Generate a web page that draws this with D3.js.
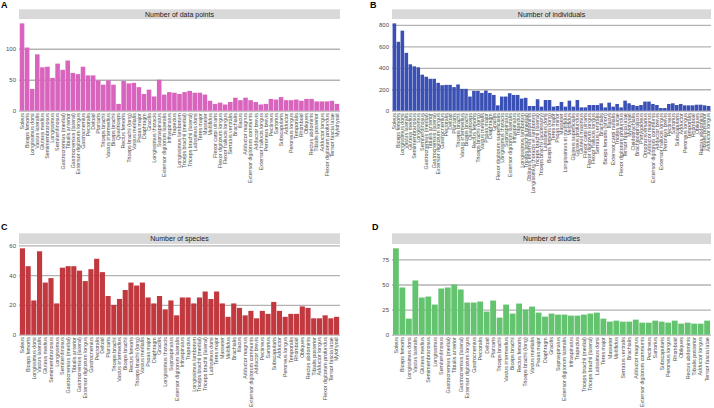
<!DOCTYPE html>
<html><head><meta charset="utf-8">
<script src="https://cdn.jsdelivr.net/npm/d3@7"></script>
<style>
html,body{margin:0;padding:0;background:#fff;}
svg{display:block;font-family:"Liberation Sans",Arial,Helvetica,sans-serif;}
</style></head>
<body><svg id="chart" width="714" height="408"></svg>
<script>
// ---- Data ----
const musclesA = ["Soleus","Biceps femoris","Longissimus dorsi","Vastus lateralis","Gluteus medius","Semimembranosus","Longissimus","Semitendinosus","Gastrocnemius (medial)","Tibialis anterior","Gastrocnemius (lateral)","Extensor digitorum longus","Gastrocnemius","Pectoralis","Deltoid","Plantaris","Triceps brachii","Vastus intermedius","Biceps brachii","Quadriceps","Rectus femoris","Triceps brachii (long)","Vastus medialis","Psoas major","Diaphragm","Gracilis","Longissimus thoracis","Supraspinatus","Extensor digitorum lateralis","Infraspinatus","Trapezius","Longissimus lumborum","Triceps brachii (medial)","Triceps brachii (lateral)","Latissimus dorsi","Teres major","Masseter","Multifidus","Flexor carpi ulnaris","Flexor digitorum longus","Flexor hallucis longus","Serratus ventralis","Brachialis","Iliacus","Adductor magnus","Extensor digitorum communis","Adductor brevis","Extensor hallucis longus","Peroneus brevis","Pectineus","Sartorius","Subscapularis","Adductor","Peroneus longus","Temporalis","Rhomboid","Obliques","Rectus abdominis","Tibialis posterior","Adductor longus","Flexor digitorum profundus","Tensor fascia latae","Mylohyoid"];
const dataPointsA = [141,102,35,91,70,71,53,76,66,81, 61,59,71,57,57,49,42,49,42,11, 48,44,45,38,27,34,23,50,26,30, 29,27,30,32,29,29,26,16,11,13, 10,14,21,17,21,17,14,10,11,19, 18,22,17,17,18,16,19,19,15,15, 15,16,11];

const musclesB = ["Soleus","Biceps femoris","Longissimus dorsi","Vastus lateralis","Gluteus medius","Semimembranosus","Longissimus","Semitendinosus","Gastrocnemius (medial)","Tibialis anterior","Gastrocnemius (lateral)","Extensor digitorum longus","Gastrocnemius","Pectoralis","Deltoid","Plantaris","Triceps brachii","Vastus intermedius","Biceps brachii","Quadriceps","Rectus femoris","Triceps brachii (long)","Vastus medialis","Psoas major","Diaphragm","Gracilis","Flexor digitorum superficialis","Longissimus thoracis","Supraspinatus","Extensor digitorum lateralis","Infraspinatus","Trapezius","Longissimus lumborum","Triceps brachii (medial)","Obliquus externus abdominis","Longissimus thoracis et lumborum","Triceps brachii (lateral)","Triceps brachii (accessory)","Latissimus dorsi","Biceps femoris (long)","Teres major","Psoas minor","Masseter","Longissimus et multifidus","Multifidus","Gluteus superficialis","Gluteus profundus","Gluteus maximus","Flexor carpi ulnaris","Flexor digitorum longus","Flexor hallucis longus","Serratus ventralis","Brachialis","Biceps femoris (short)","Iliacus","Extensor carpi radialis","Triceps surae","Flexor digitorum profundus","Tensor fascia latae","Mylohyoid","Cleidobrachialis","Brachiocephalicus","Pterygoideus","Omotransversarius","Adductor magnus","Extensor digitorum communis","Adductor brevis","Extensor hallucis longus","Peroneus brevis","Pectineus","Sartorius","Subscapularis","Adductor","Peroneus longus","Temporalis","Rhomboid","Obliques","Rectus abdominis","Tibialis posterior","Adductor longus"];
const individualsB = [815,643,747,540,433,414,405,336,317,298, 298,260,238,241,241,220,245,204,204,132, 185,185,166,188,166,147,50,132,132,163, 147,147,113,120,44,44,107,38,100,100, 38,44,82,38,94,38,100,31,31,53, 53,53,69,31,75,38,63,31,94,69, 53,44,53,85,85,63,53,25,25,63, 69,53,63,50,50,50,56,56,50,44];

const musclesC = ["Soleus","Biceps femoris","Longissimus dorsi","Vastus lateralis","Gluteus medius","Semimembranosus","Longissimus","Semitendinosus","Gastrocnemius (medial)","Tibialis anterior","Gastrocnemius (lateral)","Extensor digitorum longus","Gastrocnemius","Pectoralis","Deltoid","Plantaris","Triceps brachii","Vastus intermedius","Biceps brachii","Rectus femoris","Triceps brachii (long)","Vastus medialis","Psoas major","Diaphragm","Gracilis","Longissimus thoracis","Supraspinatus","Extensor digitorum lateralis","Infraspinatus","Trapezius","Longissimus lumborum","Triceps brachii (medial)","Triceps brachii (lateral)","Latissimus dorsi","Teres major","Masseter","Multifidus","Brachialis","Iliacus","Adductor magnus","Extensor digitorum communis","Adductor brevis","Pectineus","Sartorius","Subscapularis","Adductor","Peroneus longus","Temporalis","Rhomboid","Obliques","Rectus abdominis","Tibialis posterior","Adductor longus","Flexor digitorum profundus","Tensor fascia latae","Mylohyoid"];
const speciesC = [58,46,23,56,35,38,21,45,46,46, 43,36,44,51,42,26,20,24,30,35, 33,35,25,21,26,17,23,13,25,25, 21,25,29,24,29,21,12,21,18,13, 16,11,16,14,22,16,12,14,14,19, 18,11,11,13,11,12];

const musclesD = ["Soleus","Biceps femoris","Longissimus dorsi","Vastus lateralis","Gluteus medius","Semimembranosus","Longissimus","Semitendinosus","Gastrocnemius (medial)","Tibialis anterior","Gastrocnemius (lateral)","Extensor digitorum longus","Gastrocnemius","Pectoralis","Deltoid","Plantaris","Triceps brachii","Vastus intermedius","Biceps brachii","Rectus femoris","Triceps brachii (long)","Vastus medialis","Psoas major","Diaphragm","Gracilis","Supraspinatus","Extensor digitorum lateralis","Infraspinatus","Trapezius","Triceps brachii (medial)","Triceps brachii (lateral)","Latissimus dorsi","Teres major","Masseter","Multifidus","Serratus ventralis","Brachialis","Adductor magnus","Extensor digitorum communis","Pectineus","Sartorius","Subscapularis","Peroneus longus","Rhomboid","Obliques","Rectus abdominis","Tibialis posterior","Adductor longus","Tensor fascia latae"];
const studiesD = [86,47,16,54,37,38,30,46,47,50, 45,32,32,33,23,34,17,30,21,31, 25,28,22,18,21,20,20,19,19,20, 21,22,16,13,14,13,13,15,12,12, 14,13,12,14,11,12,11,11,14];

const ticksA = [0,50,100];
const ticksB = [0,200,400,600,800];
const ticksC = [0,20,40,60];
const ticksD = [0,25,50,75];

const titles = ["Number of data points","Number of individuals","Number of species","Number of studies"];
const letters = ["A","B","C","D"];

// ---- Drawing ----
const svg = d3.select("#chart");

function panel(opts){
  const {names, values, ticks, color, x0, x1, yTop, yBottom, stripTop, title, letter, letterX, letterY} = opts;
  const g = svg.append("g");
  const x = d3.scaleBand().domain(names).range([x0, x1]).paddingInner(0.1).paddingOuter(0.15);
  const y = d3.scaleLinear().domain([0, d3.max(values)*1.05]).range([yBottom, yTop]);

  // strip
  g.append("rect").attr("x", x0).attr("y", stripTop).attr("width", x1-x0).attr("height", yTop-stripTop).attr("fill","#d9d9d9");
  g.append("text").attr("x",(x0+x1)/2).attr("y",(stripTop+yTop)/2).attr("dy","0.35em")
    .attr("text-anchor","middle").attr("font-size",7).attr("fill","#1a1a1a").text(title);

  // y axis + gridlines
  const ya = g.append("g").attr("transform",`translate(${x0},0)`)
    .call(d3.axisLeft(y).tickValues(ticks).tickSize(-(x1-x0)).tickPadding(3).tickFormat(d3.format("d")));
  ya.select(".domain").remove();
  ya.selectAll("line").attr("stroke","#b3b3b3").attr("stroke-width",1.3);
  ya.selectAll("text").attr("font-size",6).attr("fill","#4d4d4d").attr("font-family",null);

  // bars
  g.selectAll("rect.bar").data(values).join("rect").attr("class","bar")
    .attr("x",(d,i)=>x(names[i])).attr("width",x.bandwidth())
    .attr("y",d=>y(d)).attr("height",d=>y(0)-y(d)).attr("fill",color);

  // x axis labels
  const xa = g.append("g").attr("transform",`translate(0,${yBottom})`)
    .call(d3.axisBottom(x).tickSize(0).tickPadding(2));
  xa.select(".domain").remove();
  xa.selectAll("text").attr("font-size",5.3).attr("fill","#4d4d4d").attr("font-family",null)
    .attr("transform","rotate(-90)").attr("text-anchor","end")
    .attr("x",-2.5).attr("y",0).attr("dy","0.35em");

  svg.append("text").attr("x",letterX).attr("y",letterY).attr("font-size",9).attr("font-weight","bold")
    .attr("fill","#000").text(letter);
}

panel({names:musclesA, values:dataPointsA, ticks:ticksA, color:"#d964bd", x0:19, x1:340, yTop:19, yBottom:110.7, stripTop:9.3, title:titles[0], letter:letters[0], letterX:1, letterY:8});
panel({names:musclesB, values:individualsB, ticks:ticksB, color:"#3a50b4", x0:392, x1:711, yTop:19, yBottom:110.7, stripTop:9.3, title:titles[1], letter:letters[1], letterX:370, letterY:8});
panel({names:musclesC, values:speciesC, ticks:ticksC, color:"#c1383e", x0:19, x1:340, yTop:244, yBottom:334.7, stripTop:233.3, title:titles[2], letter:letters[2], letterX:1, letterY:230});
panel({names:musclesD, values:studiesD, ticks:ticksD, color:"#64c36e", x0:392, x1:711, yTop:244, yBottom:334.7, stripTop:233.3, title:titles[3], letter:letters[3], letterX:372, letterY:230});
</script></body></html>
